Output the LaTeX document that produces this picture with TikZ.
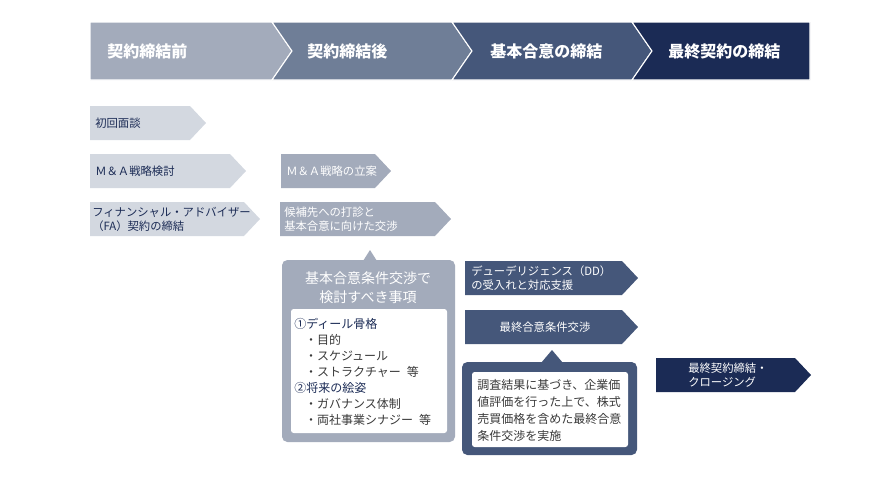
\documentclass[tikz,border=0pt]{standalone}
\usepackage{fontspec}
\setmainfont{Noto Sans CJK JP}
\usetikzlibrary{positioning}
\definecolor{phase-a}{HTML}{A3ABBB}
\definecolor{phase-b}{HTML}{6F7E97}
\definecolor{phase-c}{HTML}{45577A}
\definecolor{phase-d}{HTML}{1B2B55}
\definecolor{pale}{HTML}{D3D8E0}
\definecolor{body-gray}{HTML}{3A3A3A}

\begin{document}
\begin{tikzpicture}[x=0.75pt, y=-0.75pt,
    phasetext/.style={anchor=west, inner sep=0, text=white, font=\fontsize{12}{14}\selectfont\bfseries},
    darktext/.style={anchor=west, inner sep=0, align=left, text=phase-d, font=\fontsize{8.5}{10.5}\selectfont},
    lighttext/.style={anchor=west, inner sep=0, align=left, text=white, font=\fontsize{8.5}{10.5}\selectfont},
    sep/.style={draw=white, line width=0.8pt}]
    \useasboundingbox (0,0) rectangle (890,480);

    % Phase header
    \fill[phase-a, sep] (90,22) -- (272,22) -- (292,51) -- (272,80) -- (90,80) -- cycle;
    \fill[phase-b, sep] (272,22) -- (452,22) -- (472,51) -- (452,80) -- (272,80) -- (292,51) -- cycle;
    \fill[phase-c, sep] (452,22) -- (632,22) -- (652,51) -- (632,80) -- (452,80) -- (472,51) -- cycle;
    \fill[phase-d, sep] (632,22) -- (810,22) -- (810,80) -- (632,80) -- (652,51) -- cycle;
    \node[phasetext] (pre) at (107,51) {契約締結前};
    \node[phasetext] (post) at (307,51) {契約締結後};
    \node[phasetext] (basic) at (490,51) {基本合意の締結};
    \node[phasetext] (final) at (668,51) {最終契約の締結};

    % Before contract
    \fill[pale] (90,106) -- (190,106) -- (206,123) -- (190,140) -- (90,140) -- cycle;
    \fill[pale] (90,154) -- (230,154) -- (246,171) -- (230,188) -- (90,188) -- cycle;
    \fill[pale] (90,202) -- (244,202) -- (260,219) -- (244,236) -- (90,236) -- cycle;
    \node[darktext] (mtg) at (95,123) {初回面談};
    \node[darktext] (study) at (95,171) {Ｍ＆Ａ戦略検討};
    \node[darktext] (fa) at (92,219) {フィナンシャル・アドバイザー\\（FA）契約の締結};

    % After contract
    \fill[phase-a] (281,154) -- (375,154) -- (391,171) -- (375,188) -- (281,188) -- cycle;
    \fill[phase-a] (280,202) -- (435,202) -- (451,219) -- (435,236) -- (280,236) -- cycle;
    \node[lighttext] (plan) at (286,171) {Ｍ＆Ａ戦略の立案};
    \node[lighttext] (offer) at (284,219) {候補先への打診と\\基本合意に向けた交渉};

    % Callout: basic agreement items
    \fill[phase-a, rounded corners=4pt] (282,260) rectangle (455,442);
    \fill[phase-a] (363,261) -- (370,250) -- (377,261) -- cycle;
    \fill[white, rounded corners=2pt] (291,309) rectangle (447,433);
    \node[align=center, inner sep=0, text=white, font=\fontsize{10.5}{14.5}\selectfont] (items) at (368,288) {基本合意条件交渉で\\検討すべき事項};
    \node[anchor=west, inner sep=0, align=left, text=body-gray, font=\fontsize{9}{12}\selectfont] (itemlist) at (294,372)
        {\textcolor{phase-d}{①ディール骨格}\\
         \hspace*{0.9em}・目的\\
         \hspace*{0.9em}・スケジュール\\
         \hspace*{0.9em}・ストラクチャー\hspace{0.5em}等\\
         \textcolor{phase-d}{②将来の絵姿}\\
         \hspace*{0.9em}・ガバナンス体制\\
         \hspace*{0.9em}・両社事業シナジー\hspace{0.5em}等};

    % Basic agreement phase
    \fill[phase-c] (465,261) -- (622,261) -- (638,278) -- (622,295) -- (465,295) -- cycle;
    \fill[phase-c] (465,310) -- (622,310) -- (638,327) -- (622,344) -- (465,344) -- cycle;
    \node[lighttext] (dd) at (471,278) {デューデリジェンス（DD）\\の受入れと対応支援};
    \node[lighttext, anchor=center] (nego) at (545,327) {最終合意条件交渉};

    % Callout: final negotiation
    \fill[phase-c, rounded corners=4pt] (462,362) rectangle (637,455);
    \fill[phase-c] (541,363) -- (552,350) -- (563,363) -- cycle;
    \fill[white, rounded corners=2pt] (472,372) rectangle (628,447);
    \node[anchor=west, inner sep=0, align=left, text=body-gray, font=\fontsize{9}{12.75}\selectfont] (detail) at (477,410)
        {調査結果に基づき、企業価\\値評価を行った上で、株式\\売買価格を含めた最終合意\\条件交渉を実施};

    % Final contract phase
    \fill[phase-d] (656,358) -- (795,358) -- (811,375) -- (795,392) -- (656,392) -- cycle;
    \node[lighttext] (closing) at (688,375) {最終契約締結・\\クロージング};
\end{tikzpicture}
\end{document}
